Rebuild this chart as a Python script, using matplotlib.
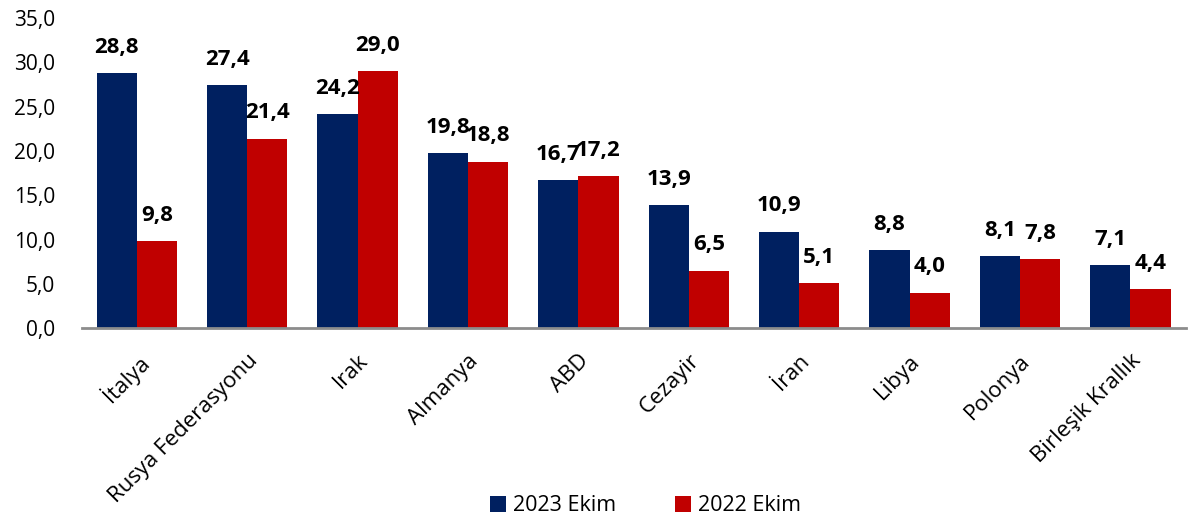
import numpy as np
import matplotlib.pyplot as plt

plt.rcParams['font.family'] = ['Open Sans', 'DejaVu Sans']

# data
countries = ['İtalya', 'Rusya Federasyonu', 'Irak', 'Almanya', 'ABD', 'Cezayir',
             'İran', 'Libya', 'Polonya', 'Birleşik Krallık']
ekim_2023 = [28.8, 27.4, 24.2, 19.8, 16.7, 13.9, 10.9, 8.8, 8.1, 7.1]
ekim_2022 = [9.8, 21.4, 29.0, 18.8, 17.2, 6.5, 5.1, 4.0, 7.8, 4.4]
yticks = [0, 5, 10, 15, 20, 25, 30, 35]

navy = '#002060'
red = '#C00000'

fig = plt.figure(figsize=(12, 5.2), dpi=100)
ax = fig.add_axes([0.068, 0.369, 0.92, 0.596])

x = np.arange(len(countries))
w = 0.365
b1 = ax.bar(x - w / 2, ekim_2023, w, color=navy, label='2023 Ekim')
b2 = ax.bar(x + w / 2, ekim_2022, w, color=red, label='2022 Ekim')

def fmt(v):
    return ('%.1f' % v).replace('.', ',')

for bars, vals in ((b1, ekim_2023), (b2, ekim_2022)):
    for rect, v in zip(bars, vals):
        ax.annotate(fmt(v), (rect.get_x() + rect.get_width() / 2, v),
                    xytext=(0, 11), textcoords='offset points',
                    ha='center', va='bottom', fontsize=16, fontweight='bold')

ax.set_xlim(-0.5, len(countries) - 0.5)
ax.set_ylim(0, 35)
ax.set_yticks(yticks)
ax.set_yticklabels([fmt(t) for t in yticks], fontsize=15)
ax.set_xticks(x)
ax.set_xticklabels(countries, rotation=45, ha='right', rotation_mode='anchor', fontsize=16)
ax.tick_params(axis='both', length=0)
ax.tick_params(axis='x', pad=16)
ax.tick_params(axis='y', pad=19)

for s in ['top', 'right', 'left']:
    ax.spines[s].set_visible(False)
ax.spines['bottom'].set_color('#8c8c8c')
ax.spines['bottom'].set_linewidth(2)

fig.legend(handles=[b1, b2], loc='lower center', bbox_to_anchor=(0.538, -0.03), ncol=2,
           frameon=False, fontsize=15.5, handlelength=0.75, handleheight=0.75,
           columnspacing=2.7, handletextpad=0.35)

fig.savefig('out.png', dpi=100)
